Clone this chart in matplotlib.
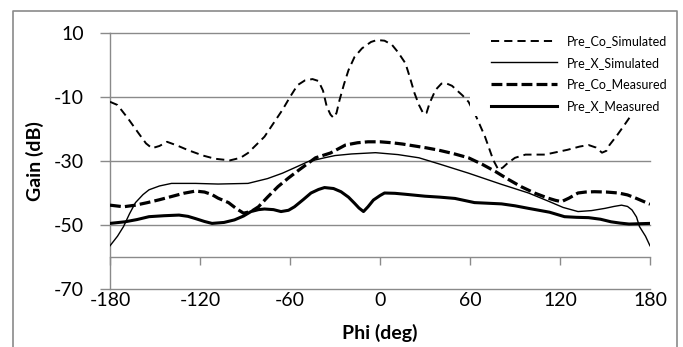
import matplotlib
matplotlib.use("Agg")
import matplotlib.pyplot as plt
from matplotlib.lines import Line2D
from matplotlib.patches import Rectangle

plt.rcParams['font.family'] = ['Lato', 'DejaVu Sans']
plt.rcParams['axes.unicode_minus'] = False

# Data (angle in deg, gain in dB)
co_sim_phi = [-180, -175, -168, -161, -156, -152, -147, -142, -135, -128,
              -118, -110, -100, -93, -88, -77, -65, -60, -55, -50, -45, -41,
              -38, -35.5, -33, -31, -29, -27, -24, -21, -17, -12, -6, -2, 3,
              8, 12, 17, 20, 23, 26, 29, 31, 33, 37, 41, 44, 48, 51, 55, 59,
              64, 70, 75.5, 79, 82, 85, 90, 97, 110, 125, 133, 139, 144, 148,
              151, 153, 158, 163, 167, 172, 180]
co_sim_gain = [-11.5, -12.5, -16.7, -21.3, -24.5, -26, -25.3, -24, -25.2,
               -26.6, -28.3, -29.3, -29.8, -29, -27.5, -22.4, -14, -10, -6.3,
               -4.8, -4.4, -5, -8, -13, -15.5, -16.5, -15, -11, -6, -1.6, 2.5,
               5.2, 7.2, 7.8, 7.6, 6.3, 4, 0.5, -4, -8.8, -12.5, -15.3, -15,
               -12, -7.8, -5.8, -5.7, -6.5, -7.8, -9.5, -11.5, -16, -22.4,
               -29.7, -32.8, -32, -30.7, -29, -28, -28, -26.5, -25.5, -25,
               -25.8, -27.4, -26.8, -25, -22, -18.7, -16, -13.5, -12]

x_sim_phi = [-180, -175, -171, -167, -163, -158, -154, -147, -139, -123, -108,
             -88, -75, -65, -55, -48, -37, -30, -19, -3, 12, 26, 40, 59, 81,
             99, 113, 122, 132, 141, 150, 156, 161, 165, 168, 171, 173, 177,
             180]
x_sim_gain = [-56.5, -53.5, -50.5, -46.5, -43, -40.5, -39, -37.8, -37, -37,
              -37.2, -37, -35.5, -33.8, -31.7, -30.2, -29, -28.3, -27.8,
              -27.4, -28, -29, -31, -33.8, -37.3, -40, -42.7, -44.5, -45.8,
              -45.5, -44.8, -44.2, -43.8, -44.2, -45.3, -47.5, -50.5, -53.5,
              -56.5]

co_meas_phi = [-180, -171, -163, -155, -147, -139, -131, -123, -117, -112,
               -108, -101, -96, -91, -86, -81, -75, -68, -61, -54, -43, -33,
               -23, -15, -8, 0, 8, 15, 23, 31, 39, 49, 59, 68, 77, 85, 94, 103,
               112, 117, 121, 126, 132, 137, 143, 151, 159, 165, 170, 175, 180]
co_meas_gain = [-43.8, -44.3, -43.8, -43, -42.1, -41.1, -40.1, -39.4, -39.7,
                -40.5, -41.6, -43, -44.8, -46.3, -45.8, -44.3, -41.3, -38,
                -35.3, -32.8, -29, -27.5, -25, -24.3, -24, -24, -24.3, -24.7,
                -25.3, -25.9, -26.6, -27.7, -29, -31, -33.3, -35.6, -38,
                -40, -41.6, -42.3, -42.7, -41.6, -40, -39.7, -39.6, -39.7,
                -40, -40.6, -41.5, -42.5, -43.5]

x_meas_phi = [-180, -170, -162, -154, -144, -134, -128, -123, -117, -112,
              -104, -97, -91, -86, -81, -77, -71, -66, -61, -57, -51, -46, -41,
              -37, -31, -26, -21, -17, -14, -11, -8, -4.4, 0, 3, 10, 17, 30,
              40, 50, 63, 72, 81, 90, 99, 106, 113, 118, 123, 131, 139, 147,
              154, 160, 166, 173, 180]
x_meas_gain = [-49.5, -49, -48.3, -47.4, -47.1, -46.9, -47.3, -48, -48.9,
               -49.5, -49.2, -48.4, -47.2, -45.8, -45.2, -45, -45.2, -45.8,
               -45.4, -44.3, -42, -40, -38.9, -38.3, -38.6, -39.6, -41.3,
               -43.2, -44.7, -45.8, -44.3, -42.2, -40.8, -40, -40.1, -40.4,
               -41, -41.3, -41.7, -43, -43.2, -43.4, -44, -44.8, -45.4, -46,
               -46.7, -47.4, -47.6, -47.7, -48.2, -49, -49.4, -49.7, -49.6,
               -49.5]

series_names = ['Pre_Co_Simulated', 'Pre_X_Simulated',
                'Pre_Co_Measured', 'Pre_X_Measured']
x_ticks = [-180, -120, -60, 0, 60, 120, 180]
y_ticks = [-70, -50, -30, -10, 10]

W, H = 683, 347
GRAY = '#8a8a8a'

fig = plt.figure(figsize=(W / 100, H / 100), dpi=100)
ax = fig.add_axes([110 / W, 1 - 289 / H, 540 / W, 256 / H])

# Horizontal gridlines
for yv in y_ticks:
    ax.axhline(yv, color=GRAY, lw=1.0, clip_on=False, zorder=1)

# Curves
l1, = ax.plot(co_sim_phi, co_sim_gain, color='black', lw=1.4,
              linestyle=(0, (4.2, 2.6)), dash_capstyle='butt', zorder=3)
l2, = ax.plot(x_sim_phi, x_sim_gain, color='black', lw=1.0, zorder=3)
l3, = ax.plot(co_meas_phi, co_meas_gain, color='black', lw=2.3,
              linestyle=(0, (3.4, 1.3)), dash_capstyle='butt', zorder=3)
l4, = ax.plot(x_meas_phi, x_meas_gain, color='black', lw=2.2, zorder=3)

ax.set_xlim(-180, 180)
ax.set_ylim(-70, 10)

# Axis styling, Excel-like: x axis crosses at -60
for s in ['top', 'right']:
    ax.spines[s].set_visible(False)
ax.spines['left'].set_color(GRAY)
ax.spines['left'].set_linewidth(1.0)
ax.spines['bottom'].set_position(('data', -60))
ax.spines['bottom'].set_color(GRAY)
ax.spines['bottom'].set_linewidth(1.0)

ax.set_xticks(x_ticks)
ax.set_xticklabels([str(v) for v in x_ticks])
ax.set_yticks(y_ticks)
ax.set_yticklabels([str(v) for v in y_ticks])
ax.tick_params(axis='y', direction='out', length=7, width=1.0, color=GRAY,
               labelsize=14, pad=12)
ax.tick_params(axis='x', direction='out', length=5.5, width=1.0, color=GRAY,
               labelsize=14, pad=20)

fig.text(35 / W, 1 - 161 / H, 'Gain (dB)', rotation=90, ha='center',
         va='center', fontsize=14, fontweight='bold')
fig.text(380 / W, 1 - 333 / H, 'Phi (deg)', ha='center', va='center',
         fontsize=14, fontweight='bold')

# White legend area covering the plot corner
fig.add_artist(Rectangle((470 / W, 1 - 116 / H), 208 / W, 94 / H,
                         transform=fig.transFigure, facecolor='white',
                         edgecolor='none', zorder=5))
leg = fig.legend([l1, l2, l3, l4], series_names, loc='upper left',
                 bbox_to_anchor=(491 / W, 1 - 35 / H), frameon=False,
                 fontsize=9, handlelength=5.3, handletextpad=0.8,
                 labelspacing=0.78, borderpad=0, borderaxespad=0)
leg.set_zorder(6)

# Outer chart border
fig.add_artist(Line2D([13 / W, 13 / W, 677 / W, 677 / W],
                      [0, 1 - 11 / H, 1 - 11 / H, 0],
                      transform=fig.transFigure, color=GRAY, lw=1.2,
                      zorder=7))

fig.savefig('out.png', dpi=100)
